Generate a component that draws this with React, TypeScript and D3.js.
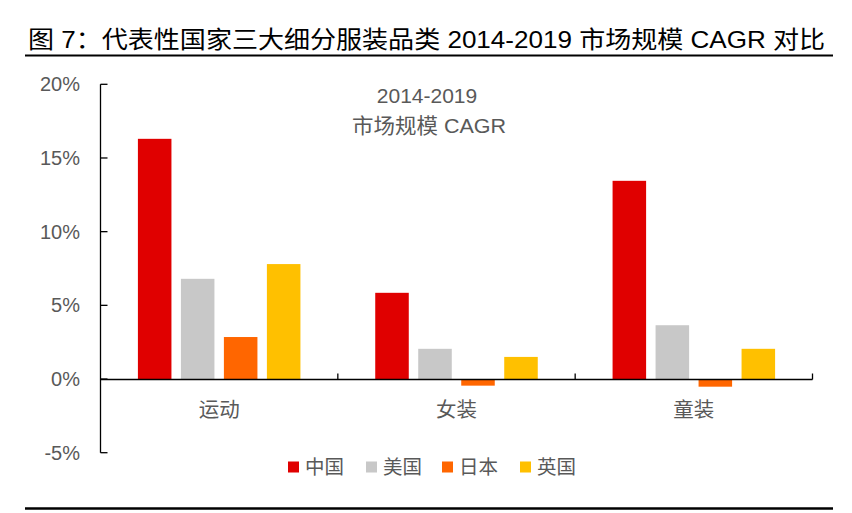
import React from 'react'
import * as d3 from 'd3'

// categories and series
const categories = ['运动', '女装', '童装']
const seriesNames = ['中国', '美国', '日本', '英国']
const seriesColors = ['#E00000', '#C8C8C8', '#FF6600', '#FFC000']
const china = [16.3, 5.85, 13.45]
const usa = [6.8, 2.05, 3.65]
const japan = [2.85, -0.45, -0.52]
const uk = [7.8, 1.5, 2.05]
const yTicks = [-5, 0, 5, 10, 15, 20]

const values = [china, usa, japan, uk]

const W = 852
const H = 513
const FONT = '"Liberation Sans", Arial, "Noto Sans CJK SC", sans-serif'
const GRAY = '#595959'

export default function App(): JSX.Element {
  const y = d3.scaleLinear().domain([-5, 20]).range([452.7, 84.3])
  const x0 = d3.scaleBand<string>().domain(categories).range([100.5, 812.5])
  const x1 = d3
    .scaleBand<string>()
    .domain(seriesNames)
    .range([0, x0.bandwidth()])
    .paddingInner(0.22)
    .paddingOuter(0.87)

  const axisX = 100.5
  const zeroY = Math.round(y(0)) + 0.5

  // legend layout
  const legendStarts = [288, 366, 442, 520]

  return (
    <svg
      width={W}
      height={H}
      style={{ position: 'absolute', left: 0, top: 0, background: '#fff' }}
      fontFamily={FONT}
    >
      {/* title */}
      <text x={28} y={48} fontSize={24} fill="#000" textLength={797} lengthAdjust="spacingAndGlyphs">
        图 7：代表性国家三大细分服装品类 2014-2019 市场规模 CAGR 对比
      </text>
      <line x1={25} x2={833} y1={55.5} y2={55.5} stroke="#000" strokeWidth={2.2} />

      {/* subtitle */}
      <text x={427} y={95} fontSize={21} fill={GRAY} textAnchor="middle" dominantBaseline="central">
        2014-2019
      </text>
      <text
        x={429}
        y={125}
        fontSize={21}
        fill={GRAY}
        textAnchor="middle"
        dominantBaseline="central"
        textLength={154}
        lengthAdjust="spacingAndGlyphs"
      >
        市场规模 CAGR
      </text>

      {/* bars */}
      {categories.map((c, ci) => (
        <g key={c}>
          {seriesNames.map((s, si) => {
            const v = values[si][ci]
            const top = y(Math.max(0, v))
            const bottom = y(Math.min(0, v))
            return (
              <rect
                key={s}
                x={(x0(c) ?? 0) + (x1(s) ?? 0)}
                y={top}
                width={x1.bandwidth()}
                height={bottom - top}
                fill={seriesColors[si]}
              />
            )
          })}
        </g>
      ))}

      {/* y axis */}
      <line x1={axisX} x2={axisX} y1={y(20)} y2={y(-5)} stroke="#000" strokeWidth={1.3} />
      {yTicks.map(t => (
        <g key={t}>
          <line x1={axisX} x2={axisX + 7} y1={y(t)} y2={y(t)} stroke="#000" strokeWidth={1.3} />
          <text
            x={80}
            y={y(t)}
            fontSize={20}
            fill={GRAY}
            textAnchor="end"
            dominantBaseline="central"
          >
            {t}%
          </text>
        </g>
      ))}

      {/* x axis */}
      <line x1={axisX} x2={812.5} y1={zeroY} y2={zeroY} stroke="#000" strokeWidth={1.3} />
      {categories.map(c => {
        const right = (x0(c) ?? 0) + x0.bandwidth()
        return (
          <line key={c} x1={right} x2={right} y1={zeroY} y2={zeroY - 6} stroke="#000" strokeWidth={1.3} />
        )
      })}
      {categories.map(c => (
        <text
          key={c}
          x={(x0(c) ?? 0) + x0.bandwidth() / 2}
          y={409}
          fontSize={20.5}
          fill={GRAY}
          textAnchor="middle"
          dominantBaseline="central"
        >
          {c}
        </text>
      ))}

      {/* legend */}
      {seriesNames.map((s, i) => (
        <g key={s} transform={`translate(${legendStarts[i]},0)`}>
          <rect x={0} y={461.5} width={11} height={11} fill={seriesColors[i]} />
          <text x={17} y={467} fontSize={19.5} fill={GRAY} dominantBaseline="central">
            {s}
          </text>
        </g>
      ))}

      {/* bottom rule */}
      <line x1={25} x2={833} y1={508.5} y2={508.5} stroke="#000" strokeWidth={2.5} />
    </svg>
  )
}
